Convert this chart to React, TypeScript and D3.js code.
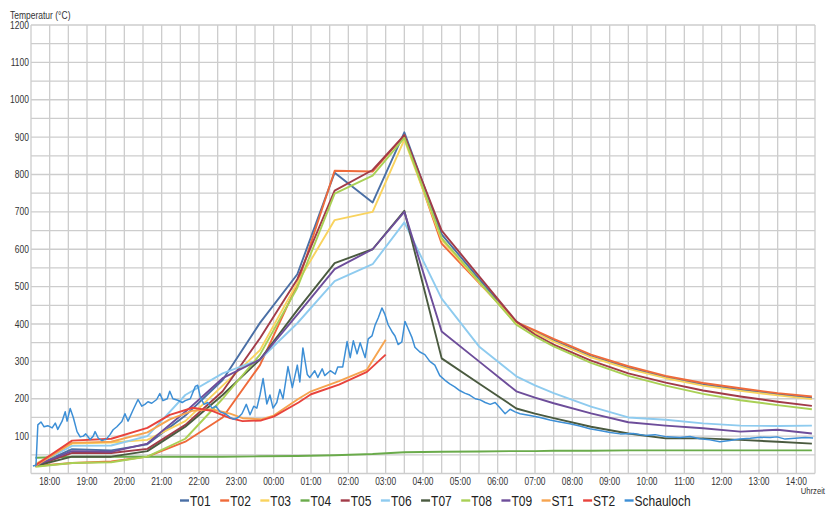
import React, { useEffect, useRef } from 'react';
import * as d3 from 'd3';

const seriesNames = ['T01', 'T02', 'T03', 'T04', 'T05', 'T06', 'T07', 'T08', 'T09', 'ST1', 'ST2', 'Schauloch'];
const seriesColors = ['#4a6fa5', '#ef6a3a', '#f9d35e', '#6aab4b', '#a23b48', '#8ecbef', '#4a5a3f', '#a9d055', '#6d4d9a', '#f6a44f', '#e8433c', '#3d8fd6'];

// measurement times of the thermocouples
const nodeTimes = ['17:37', '18:36', '19:39', '20:37', '21:38', '22:38', '23:38', '00:38', '01:38', '02:39', '03:30', '04:30', '05:30', '06:30', '07:00', '07:30', '08:30', '09:30', '10:30', '11:30', '12:30', '13:30', '14:25'];
const t01 = [22, 65, 62, 78, 155, 250, 403, 533, 805, 725, 913, 640, 521, 403, 380, 356, 314, 283, 258, 238, 224, 212, 202];
const t02 = [20, 28, 32, 45, 85, 150, 290, 506, 810, 808, 905, 615, 510, 405, 383, 360, 318, 287, 261, 242, 228, 215, 206];
const t03 = [25, 80, 83, 90, 140, 235, 330, 510, 678, 700, 893, 625, 512, 400, 377, 353, 311, 280, 255, 235, 221, 209, 199];
const t04 = [42, 45, 45, 45, 45, 45, 46, 47, 49, 52, 57, 58, 59, 60, 60, 61, 61, 62, 62, 62, 62, 62, 62];
const t05 = [20, 55, 55, 66, 130, 220, 362, 520, 757, 812, 905, 650, 528, 407, 372, 345, 302, 268, 243, 222, 206, 192, 181];
const t06 = [22, 74, 75, 100, 210, 268, 305, 402, 515, 560, 672, 468, 340, 260, 236, 215, 179, 150, 144, 134, 128, 127, 128];
const t07 = [20, 45, 45, 60, 125, 210, 305, 437, 563, 600, 703, 308, 241, 174, 160, 148, 125, 107, 94, 94, 90, 85, 80];
const t08 = [18, 28, 30, 45, 93, 200, 318, 497, 749, 797, 898, 630, 514, 398, 367, 340, 296, 261, 235, 213, 196, 183, 172];
const t09 = [22, 60, 58, 80, 165, 255, 305, 425, 547, 600, 700, 380, 300, 220, 203, 188, 161, 137, 128, 121, 112, 117, 107];

const stTimes = ['17:37', '18:36', '19:39', '20:37', '21:13', '21:50', '22:20', '22:50', '23:10', '23:40', '00:00', '00:40', '01:00', '01:45', '02:30', '03:00'];
const st1 = [20, 82, 85, 110, 145, 168, 172, 160, 148, 145, 155, 200, 220, 247, 278, 358];
const st2 = [22, 88, 93, 122, 157, 176, 168, 148, 140, 142, 152, 190, 212, 238, 272, 318];

const schauTimes = [
  '17:33', '17:38', '17:41', '17:46', '17:51', '17:57', '18:04', '18:09', '18:13', '18:20',
  '18:25', '18:28', '18:33', '18:38', '18:44', '18:49', '18:54', '18:58', '19:05', '19:10',
  '19:13', '19:18', '19:24', '19:31', '19:37', '19:42', '19:48', '19:56', '20:01', '20:06',
  '20:14', '20:22', '20:28', '20:33', '20:38', '20:44', '20:52', '20:57', '21:02', '21:09',
  '21:13', '21:18', '21:26', '21:33', '21:38', '21:46', '21:54', '21:58', '22:02', '22:08',
  '22:14', '22:21', '22:27', '22:34', '22:42', '22:50', '22:56', '23:03', '23:09', '23:16',
  '23:22', '23:28', '23:33', '23:38', '23:43', '23:49', '23:54', '23:59', '00:05', '00:10',
  '00:15', '00:23', '00:30', '00:38', '00:42', '00:47', '00:54', '00:58', '01:06', '01:11',
  '01:18', '01:22', '01:31', '01:39', '01:43', '01:51', '01:58', '02:03', '02:08', '02:14',
  '02:19', '02:27', '02:32', '02:38', '02:43', '02:48', '02:54', '02:59', '03:04', '03:10',
  '03:15', '03:20', '03:26', '03:31', '03:36', '03:42', '03:47', '03:55', '04:03', '04:11',
  '04:19', '04:27', '04:35', '04:43', '04:51', '04:59', '05:07', '05:15', '05:24', '05:32',
  '05:40', '05:48', '05:56', '06:04', '06:12', '06:20', '06:28', '06:36', '06:52', '07:08',
  '07:24', '07:40', '07:56', '08:12', '08:28', '08:44', '09:01', '09:17', '09:38', '09:57',
  '10:13', '10:32', '10:53', '11:09', '11:25', '11:41', '11:57', '12:13', '12:29', '12:46',
  '13:02', '13:18', '13:29', '13:42', '13:58', '14:14', '14:27',
];
const schauValues = [
  20, 22, 130, 138, 125, 128, 122, 135, 118, 140,
  165, 140, 174, 150, 112, 98, 100, 106, 91, 100,
  112, 95, 88, 92, 104, 117, 125, 139, 160, 140,
  170, 198, 180, 185, 192, 188, 198, 214, 195, 200,
  220, 200, 196, 190, 195, 200, 233, 236, 205, 185,
  190, 175, 180, 165, 160, 150, 145, 150, 160, 185,
  157, 180, 175, 210, 254, 186, 210, 175, 190, 225,
  200, 286, 230, 290, 245, 336, 265, 257, 275, 257,
  280, 262, 275, 266, 285, 285, 353, 310, 355, 320,
  350, 310, 360, 368, 397, 416, 443, 425, 398, 380,
  368, 345, 352, 407, 388, 365, 338, 325, 318, 300,
  290, 262, 250, 240, 232, 222, 215, 210, 200, 197,
  190, 185, 190, 175, 160, 172, 165, 160, 155, 150,
  143, 138, 133, 127, 120, 115, 110, 106, 107, 102,
  104, 98, 96, 99, 93, 90, 85, 88, 92, 94,
  97, 96, 98, 92, 94, 96, 95,
];

const hourLabels = ['18:00', '19:00', '20:00', '21:00', '22:00', '23:00', '00:00', '01:00', '02:00', '03:00', '04:00', '05:00', '06:00', '07:00', '08:00', '09:00', '10:00', '11:00', '12:00', '13:00', '14:00'];
const tempLabels = [100, 200, 300, 400, 500, 600, 700, 800, 900, 1000, 1100, 1200];

// hours after 17:00, the night runs over midnight
const toHours = (s: string) => {
  const [h, m] = s.split(':').map(Number);
  return (h < 17 ? h + 24 : h) - 17 + m / 60;
};

const App: React.FC = () => {
  const ref = useRef<SVGSVGElement | null>(null);

  useEffect(() => {
    const svg = d3.select(ref.current);
    svg.selectAll('*').remove();

    const x = d3.scaleLinear().domain([0.5, 21.5]).range([31, 815]);
    const y = d3.scaleLinear().domain([0, 1200]).range([473.5, 25]);
    const font = 'Liberation Sans, Arial, sans-serif';

    const grid = svg.append('g').attr('stroke', '#cdcdcd').attr('stroke-width', 1.3);
    d3.range(0.5, 21.51, 0.5).forEach((h) => {
      grid.append('line').attr('x1', x(h)).attr('x2', x(h)).attr('y1', y(1200)).attr('y2', y(0));
    });
    d3.range(0, 1201, 50).forEach((v) => {
      grid.append('line').attr('x1', x(0.5)).attr('x2', x(21.5)).attr('y1', y(v)).attr('y2', y(v));
    });

    const label = (tx: number, ty: number, text: string, size: number, anchor: string, sx: number, fill = '#333') =>
      svg
        .append('text')
        .attr('transform', `translate(${tx},${ty}) scale(${sx},1)`)
        .attr('font-family', font)
        .attr('font-size', size)
        .attr('text-anchor', anchor)
        .attr('fill', fill)
        .text(text);

    tempLabels.forEach((v) => label(29, y(v) + 3.5, String(v), 10, 'end', 0.85));
    hourLabels.forEach((h) => label(x(toHours(h)), 485, h, 10.5, 'middle', 0.8));
    label(10, 19, 'Temperatur (°C)', 10, 'start', 0.85);
    label(825, 494, 'Uhrzeit', 9, 'end', 0.85);

    const line = d3
      .line<[number, number]>()
      .x((d) => x(d[0]))
      .y((d) => y(d[1]));

    const tSeries = [t01, t02, t03, t04, t05, t06, t07, t08, t09];
    const allSeries: [number, number][][] = [
      ...tSeries.map((vals) => vals.map((v, i) => [toHours(nodeTimes[i]), v] as [number, number])),
      st1.map((v, i) => [toHours(stTimes[i]), v] as [number, number]),
      st2.map((v, i) => [toHours(stTimes[i]), v] as [number, number]),
      schauValues.map((v, i) => [toHours(schauTimes[i]), v] as [number, number]),
    ];

    allSeries.forEach((pts, i) => {
      svg
        .append('path')
        .attr('d', line(pts))
        .attr('fill', 'none')
        .attr('stroke', seriesColors[i])
        .attr('stroke-width', i === 11 ? 1.5 : 1.9)
        .attr('stroke-linejoin', 'round');
    });

    // legend, compressed like the original lettering
    const sx = 0.8;
    const legend = svg.append('g').attr('transform', `translate(180,0)`);
    let pos = 0;
    seriesNames.forEach((name, i) => {
      legend
        .append('line')
        .attr('x1', pos)
        .attr('x2', pos + 9)
        .attr('y1', 500.5)
        .attr('y2', 500.5)
        .attr('stroke', seriesColors[i])
        .attr('stroke-width', 2.4);
      const t = legend
        .append('text')
        .attr('transform', `translate(${pos + 10},506) scale(${sx},1)`)
        .attr('font-family', font)
        .attr('font-size', 15)
        .attr('fill', '#222')
        .text(name);
      const w = (t.node() as SVGTextElement).getComputedTextLength() * sx;
      pos += 10 + w + 9.5;
    });
  }, []);

  return <svg ref={ref} width={827} height={511} style={{ position: 'absolute', left: 0, top: 0, background: '#fff' }} />;
};

export default App;
